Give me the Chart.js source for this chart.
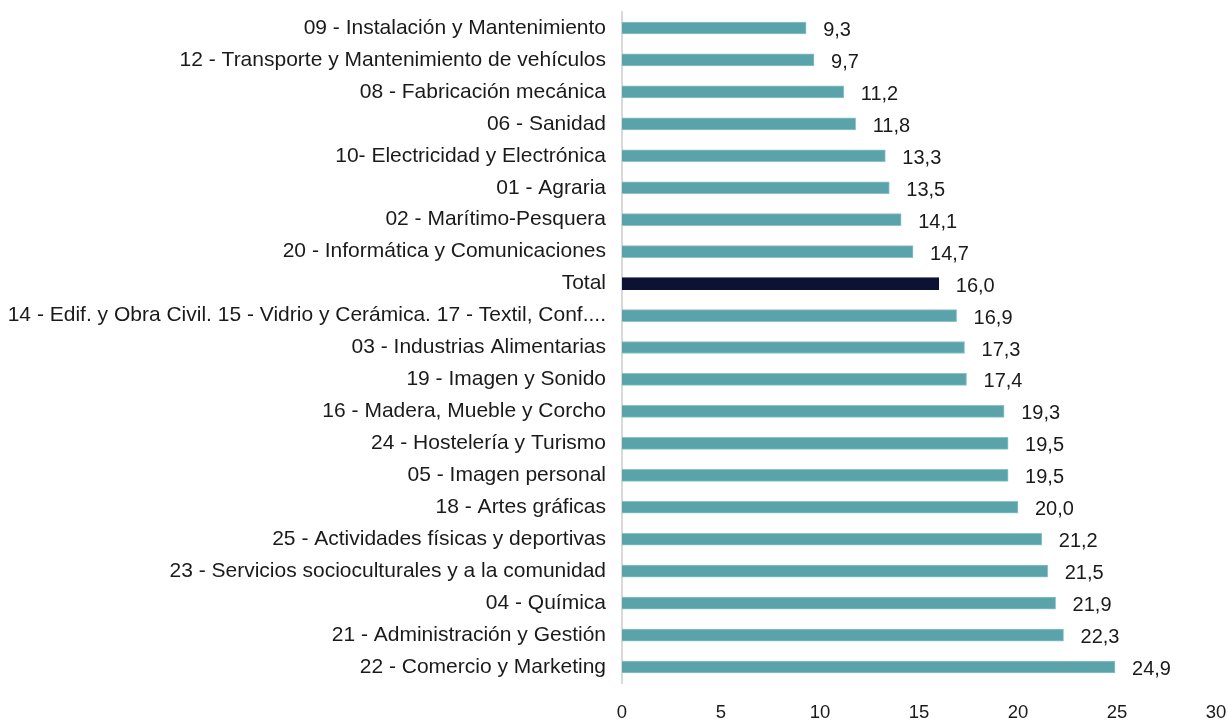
<!DOCTYPE html>
<html>
<head>
<meta charset="utf-8">
<script src="https://cdn.jsdelivr.net/npm/chart.js@4"></script>
<style>
html,body{margin:0;padding:0;background:#fff;}
#wrap{width:1228px;height:720px;}
</style>
</head>
<body>
<div id="wrap"><canvas id="c" width="1228" height="720"></canvas></div>
<script>
const categories = [
  "09 - Instalación y Mantenimiento",
  "12 - Transporte y Mantenimiento de vehículos",
  "08 - Fabricación mecánica",
  "06 - Sanidad",
  "10- Electricidad y Electrónica",
  "01 - Agraria",
  "02 - Marítimo-Pesquera",
  "20 - Informática y Comunicaciones",
  "Total",
  "14 - Edif. y Obra Civil. 15 - Vidrio y Cerámica. 17 - Textil, Conf....",
  "03 - Industrias Alimentarias",
  "19 - Imagen y Sonido",
  "16 - Madera, Mueble y Corcho",
  "24 - Hostelería y Turismo",
  "05 - Imagen personal",
  "18 - Artes gráficas",
  "25 - Actividades físicas y deportivas",
  "23 - Servicios socioculturales y a la comunidad",
  "04 - Química",
  "21 - Administración y Gestión",
  "22 - Comercio y Marketing"
];
const values = [9.3, 9.7, 11.2, 11.8, 13.3, 13.5, 14.1, 14.7, 16.0, 16.9, 17.3, 17.4, 19.3, 19.5, 19.5, 20.0, 21.2, 21.5, 21.9, 22.3, 24.9];
const xTicks = [0, 5, 10, 15, 20, 25, 30];

const FONT = "'Liberation Sans', Arial, Helvetica, sans-serif";
const TEAL = "#5aa3ab";
const NAVY = "#0c1233";

const valueLabels = {
  id: 'valueLabels',
  afterDatasetsDraw(chart) {
    const ctx = chart.ctx;
    const meta = chart.getDatasetMeta(0);
    ctx.save();
    ctx.font = "20px " + FONT;
    ctx.fillStyle = "#1a1a1a";
    ctx.textAlign = "left";
    ctx.textBaseline = "middle";
    meta.data.forEach((bar, i) => {
      const txt = values[i].toFixed(1).replace('.', ',');
      ctx.fillText(txt, bar.x + 17, bar.y + 2.5);
    });
    ctx.restore();
  }
};

new Chart(document.getElementById('c'), {
  type: 'bar',
  data: {
    labels: categories,
    datasets: [{
      data: values,
      backgroundColor: categories.map(c => c === 'Total' ? NAVY : TEAL),
      borderColor: categories.map(c => c === 'Total' ? NAVY : '#8cc2c8'),
      borderWidth: 1,
      barThickness: 12
    }]
  },
  options: {
    indexAxis: 'y',
    responsive: false,
    animation: false,
    layout: { padding: { top: 12, right: 12, bottom: 0, left: 0 } },
    plugins: { legend: { display: false }, tooltip: { enabled: false } },
    scales: {
      x: {
        min: 0, max: 30,
        afterBuildTicks(scale) { scale.ticks = xTicks.map(v => ({ value: v })); },
        afterFit(scale) { scale.height = 37; scale.paddingLeft = 0; scale.paddingRight = 0; },
        grid: { display: false, drawTicks: false },
        border: { display: false },
        ticks: { font: { size: 18.5, family: FONT }, color: '#1a1a1a', padding: 19, maxRotation: 0 }
      },
      y: {
        afterFit(scale) { scale.width = 622; scale.paddingTop = 0; scale.paddingBottom = 0; },
        grid: { display: false, drawTicks: false },
        border: { display: true, color: '#d9d9d9', width: 2 },
        ticks: { font: { size: 21, family: FONT }, color: '#1a1a1a', padding: 16, autoSkip: false }
      }
    }
  },
  plugins: [valueLabels]
});
</script>
</body>
</html>
